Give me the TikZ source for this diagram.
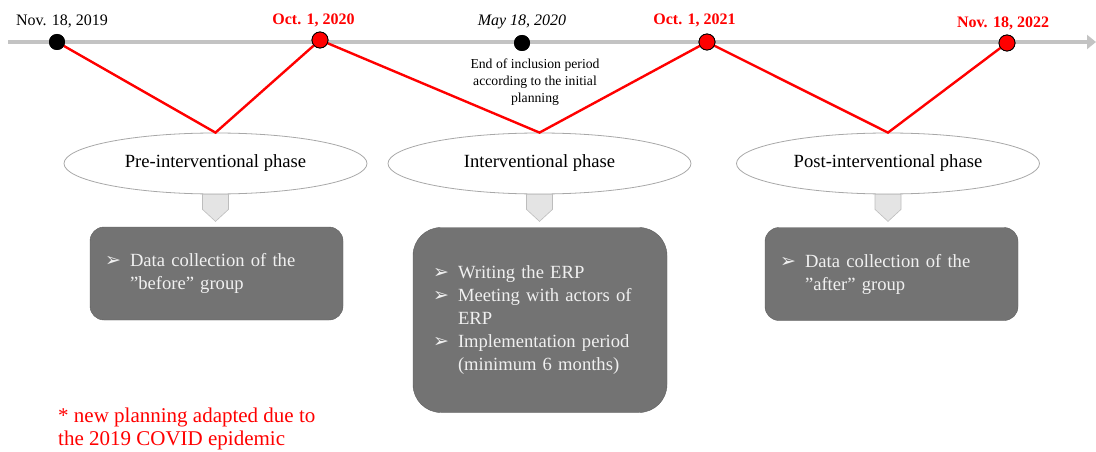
\documentclass[tikz,border=0pt]{standalone}
\usepackage{fontspec}
\setmainfont{Liberation Serif}
\newfontfamily\symfont{DejaVu Sans}
\usetikzlibrary{calc,positioning,arrows.meta,shapes.geometric}

\definecolor{axisgray}{HTML}{C3C3C3}
\definecolor{boxgray}{HTML}{737373}
\definecolor{boxline}{HTML}{5E5E5E}
\definecolor{boxtext}{HTML}{F0F0F0}
\definecolor{ellline}{HTML}{A8A8A8}
\definecolor{arrfill}{HTML}{E4E4E4}
\definecolor{arrline}{HTML}{BDBDBD}

\newcommand{\itm}[1]{\makebox[25pt][l]{\symfont\fontsize{19}{19}\selectfont ➢}#1}
\newcommand{\cont}[1]{\hspace*{25pt}#1}
\newcommand{\qt}{\symbol{34}}

\begin{document}
\begin{tikzpicture}[x=1pt, y=1pt,
    dot/.style={circle, inner sep=0pt, minimum size=16pt, fill=black},
    rdot/.style={dot, fill=red, draw=black, line width=0.8pt},
    datelbl/.style={anchor=base, inner sep=0pt, font=\fontsize{16}{18}\selectfont},
    rdatelbl/.style={datelbl, text=red, font=\fontsize{16}{18}\selectfont\bfseries},
    phase/.style={ellipse, draw=ellline, line width=0.8pt, fill=white,
        minimum width=303pt, minimum height=61pt, inner sep=0pt,
        font=\fontsize{18.6}{22}\selectfont},
    task/.style={draw=boxline, fill=boxgray, rounded corners=14pt, text=boxtext,
        align=left, text width=223pt, inner xsep=15pt, minimum height=93pt,
        font=\fontsize{18.6}{23}\selectfont},
    phasearrow/.style={draw=arrline, fill=arrfill, line width=0.6pt},
    vline/.style={red, line width=2.4pt}]

    \useasboundingbox (0,0) rectangle (1096,-452);

    % time axis
    \draw[axisgray, line width=4.5pt, -{Triangle[length=9pt, width=14pt]}] (8,-42) -- (1096,-42);

    % phases
    \node[phase] (pre) at (215.5,-163.5) {Pre-interventional phase};
    \node[phase] (inter) at (539.5,-163.5) {Interventional phase};
    \node[phase] (post) at (888,-163.5) {Post-interventional phase};

    % dates
    \node[dot] (d1) at (57,-42) {};
    \node[rdot] (d2) at (320,-40) {};
    \node[dot] (d3) at (522,-43) {};
    \node[rdot] (d4) at (707,-42) {};
    \node[rdot] (d5) at (1007,-43) {};

    \draw[vline] (d1.center) -- (pre.north) -- (d2.center);
    \draw[vline] (d2.center) -- (inter.north) -- (d4.center);
    \draw[vline] (d4.center) -- (post.north) -- (d5.center);
    \foreach \d in {d1,d3}
        \node[dot] at (\d) {};
    \foreach \d in {d2,d4,d5}
        \node[rdot] at (\d) {};

    \node[datelbl] (l1) at (62,-26) {Nov. 18, 2019};
    \node[rdatelbl] (l2) at (313.5,-24.5) {Oct. 1, 2020};
    \node[datelbl, font=\fontsize{16}{18}\selectfont\itshape] (l3) at (522,-26) {May 18, 2020};
    \node[rdatelbl] (l4) at (694.5,-25) {Oct. 1, 2021};
    \node[rdatelbl] (l5) at (1003,-27.5) {Nov. 18, 2022};

    \node[anchor=north, inner sep=0pt, align=center, font=\fontsize{13.7}{17}\selectfont]
        (incl) at (535,-58.5) {End of inclusion period\\according to the initial\\planning};

    % tasks
    \node[task] (t1) at (216.5,-273.5) {\itm{Data collection of the}\\\cont{\qt before\qt{} group}};
    \node[task, minimum height=185pt, rounded corners=28pt, inner xsep=20pt, text width=214pt]
        (t2) at (540,-320) {\itm{Writing the ERP}\\\itm{Meeting with actors of}\\\cont{ERP}\\
        \itm{Implementation period}\\\cont{(minimum 6 months)}};
    \node[task] (t3) at (891.5,-274) {\itm{Data collection of the}\\\cont{\qt after\qt{} group}};

    \foreach \p in {pre,inter,post}
        \draw[phasearrow] ($(\p.south)+(-13,0)$) -- ++(0,-15) -- ($(\p.south)+(0,-27)$)
            -- ($(\p.south)+(13,-15)$) -- ++(0,15) -- cycle;

    \node[anchor=north west, inner sep=0pt, align=left, text=red, font=\fontsize{21}{23}\selectfont]
        (note) at (58,-408) {* new planning adapted due to\\the 2019 COVID epidemic};
\end{tikzpicture}
\end{document}
